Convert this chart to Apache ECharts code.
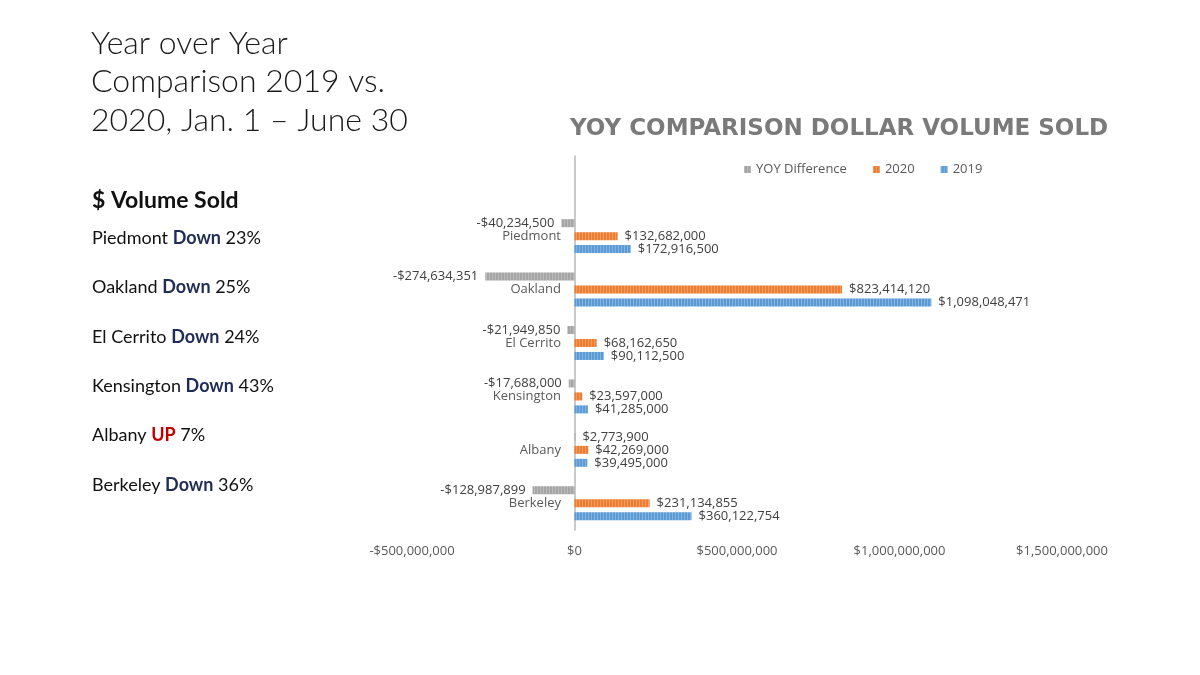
<!DOCTYPE html>
<html>
<head>
<meta charset="utf-8">
<title>YOY Comparison Dollar Volume Sold</title>
<script src="https://cdn.jsdelivr.net/npm/echarts@6/dist/echarts.min.js"></script>
<style>
  html, body { margin: 0; padding: 0; background: #fff; }
  #chart { width: 1200px; height: 675px; }
</style>
</head>
<body>
<div id="chart"></div>
<script>
// blank first row keeps the empty band above Piedmont, as in the original sheet
const cities = ["", "Piedmont", "Oakland", "El Cerrito", "Kensington", "Albany", "Berkeley"];
const vol2019 = [null, 172916500, 1098048471, 90112500, 41285000, 39495000, 360122754];
const vol2020 = [null, 132682000, 823414120, 68162650, 23597000, 42269000, 231134855];
const yoyDiff = [null, -40234500, -274634351, -21949850, -17688000, 2773900, -128987899];

// side notes
const noteTowns = ["Piedmont", "Oakland", "El Cerrito", "Kensington", "Albany", "Berkeley"];
const noteDirs = ["Down", "Down", "Down", "Down", "UP", "Down"];
const notePcts = ["23%", "25%", "24%", "43%", "7%", "36%"];

const FONT = "Lato, 'Open Sans', sans-serif";
const LABEL_FONT = "'Open Sans', sans-serif";

function fmtMoney(v) {
  return (v < 0 ? "-" : "") + "$" + Math.abs(v).toLocaleString("en-US");
}

function barData(vals) {
  return vals.map(v => v == null ? null : {
    value: v,
    label: { position: v < 0 ? "left" : "right" }
  });
}

// thin light vertical stripes, like the excel texture fill
const stripes = {
  symbol: "rect",
  symbolSize: 1,
  dashArrayX: [1, 2],
  dashArrayY: [10, 0],
  rotation: 0,
  color: "rgba(255,255,255,0.25)"
};

const chart = echarts.init(document.getElementById("chart"));

const noteTitles = noteTowns.map((t, i) => ({
  text: "{n|" + t + " }{" + (noteDirs[i] === "UP" ? "u" : "d") + "|" + noteDirs[i] + "}{n| " + notePcts[i] + "}",
  left: 92,
  top: 229 + i * 49.4,
  padding: 0,
  textStyle: {
    fontWeight: "normal",
    rich: {
      n: { fontFamily: FONT, fontSize: 18, fontWeight: "normal", color: "#111" },
      d: { fontFamily: FONT, fontSize: 18, fontWeight: "bold", color: "#1f2d56" },
      u: { fontFamily: FONT, fontSize: 18, fontWeight: "bold", color: "#c00000" }
    }
  }
}));

const labelStyle = {
  show: true,
  formatter: p => fmtMoney(p.value),
  fontFamily: LABEL_FONT,
  fontSize: 13,
  color: "#404040",
  distance: 7
};

chart.setOption({
  animation: false,
  title: [
    {
      text: "Year over Year\nComparison 2019 vs.\n2020, Jan. 1 – June 30",
      left: 91, top: 24, padding: 0,
      textStyle: { fontFamily: FONT, fontSize: 32, fontWeight: 300, lineHeight: 38.5, color: "#1a1a1a" }
    },
    {
      text: "YOY COMPARISON DOLLAR VOLUME SOLD",
      left: 570, top: 118, padding: 0,
      textStyle: { fontFamily: "'DejaVu Sans', sans-serif", fontSize: 23, fontWeight: "bold", color: "#7a7a7a" }
    },
    {
      text: "$ Volume Sold",
      left: 92, top: 189, padding: 0,
      textStyle: { fontFamily: FONT, fontSize: 23, fontWeight: "bold", color: "#111" }
    },
    ...noteTitles
  ],
  legend: {
    data: ["YOY Difference", "2020", "2019"],
    left: 739, top: 158,
    icon: "rect",
    itemWidth: 7, itemHeight: 7,
    itemGap: 26,
    textStyle: { fontFamily: LABEL_FONT, fontSize: 13, color: "#595959" }
  },
  grid: { left: 412, right: 138, top: 156, height: 374, containLabel: false },
  xAxis: {
    type: "value",
    min: -500000000, max: 1500000000, interval: 500000000,
    axisLine: { show: false },
    axisTick: { show: false },
    splitLine: { show: false },
    axisLabel: {
      formatter: v => fmtMoney(v),
      fontFamily: LABEL_FONT, fontSize: 13, color: "#595959", margin: 15
    }
  },
  yAxis: {
    type: "category",
    data: cities,
    inverse: true,
    axisLine: { onZero: true, lineStyle: { color: "#b8b8b8", width: 1.5 } },
    axisTick: { show: false },
    splitLine: { show: false },
    // labels sit beside the zero line, not at the grid edge
    axisLabel: { fontFamily: LABEL_FONT, fontSize: 13, color: "#595959", margin: -149 }
  },
  series: [
    {
      name: "YOY Difference", type: "bar", data: barData(yoyDiff),
      barWidth: 8, barGap: "62%",
      itemStyle: { color: "#a5a5a5", decal: stripes },
      label: labelStyle
    },
    {
      name: "2020", type: "bar", data: barData(vol2020),
      barWidth: 8, barGap: "62%",
      itemStyle: { color: "#ed7d31", decal: stripes },
      label: labelStyle
    },
    {
      name: "2019", type: "bar", data: barData(vol2019),
      barWidth: 8, barGap: "62%",
      itemStyle: { color: "#5b9bd5", decal: stripes },
      label: labelStyle
    }
  ]
});
</script>
</body>
</html>
